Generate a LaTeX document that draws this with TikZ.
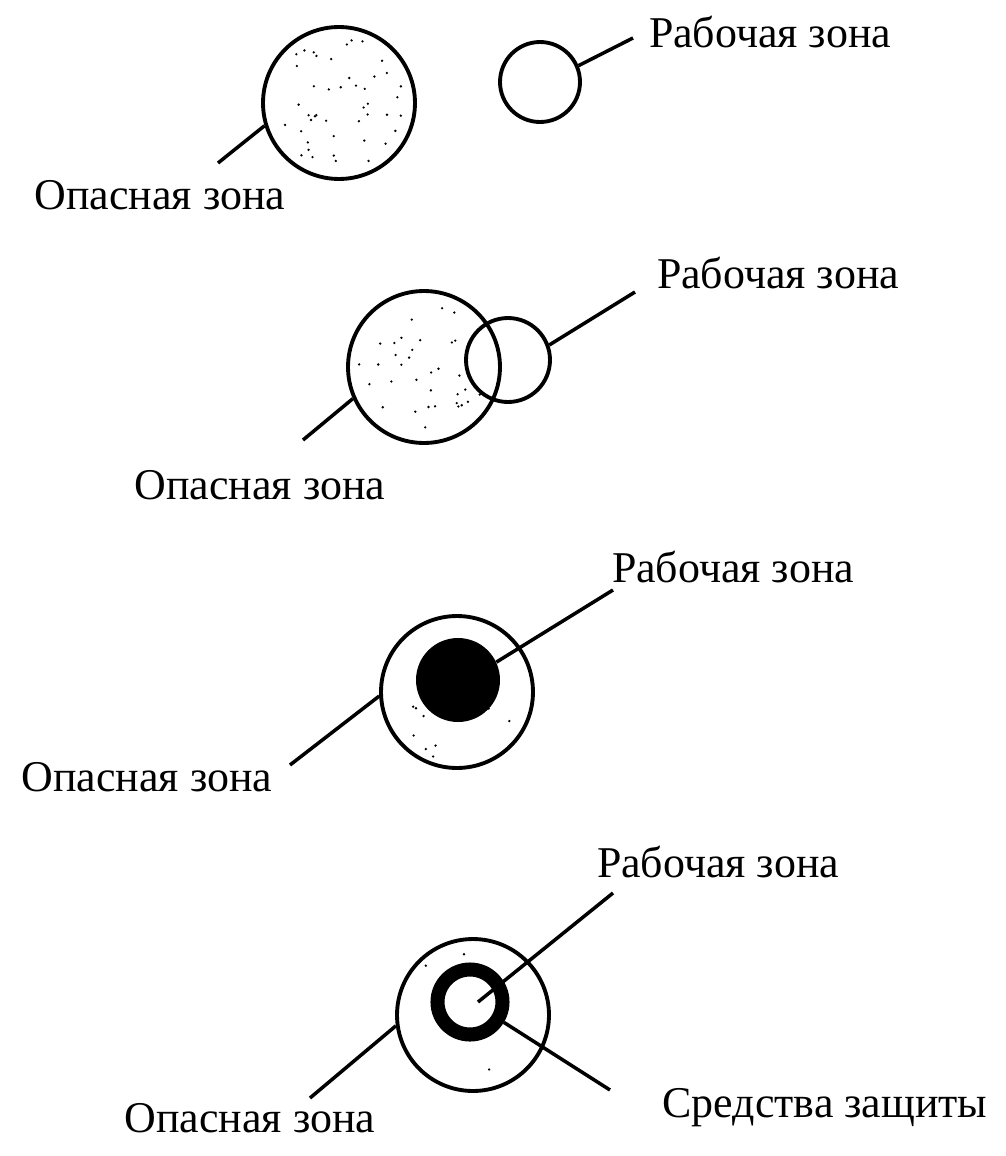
\documentclass[tikz,border=0pt]{standalone}
\usepackage{fontspec}
\setmainfont{Liberation Serif}
\begin{document}
\begin{tikzpicture}[x=0.02cm,y=-0.02cm,
    zone/.style={circle,draw,line width=2.2pt,inner sep=0pt},
    lead/.style={line width=2pt},
    lbl/.style={font=\fontsize{25}{28}\selectfont}]
    \useasboundingbox (0,0) rectangle (1006,1156);

    % first picture: zones apart
    \node[zone,minimum size=3.04cm] (d1) at (339,103) {};
    \node[zone,minimum size=1.6cm] (w1) at (540,82) {};
    \node[lbl] (dl1) at (160,195) {Опасная зона};
    \node[lbl] (wl1) at (770,32) {Рабочая зона};
    \coordinate (dc1) at (218,163);
    \coordinate (wc1) at (633,38);
    \draw[lead] (d1.197) -- (dc1);
    \draw[lead] (w1.23) -- (wc1);

    % second picture: zones overlap
    \node[zone,minimum size=3.04cm] (d2) at (424,367) {};
    \node[zone,minimum size=1.68cm] (w2) at (508,360) {};
    \node[lbl] (dl2) at (260,485) {Опасная зона};
    \node[lbl] (wl2) at (778,273) {Рабочая зона};
    \coordinate (dc2) at (303,440);
    \coordinate (wc2) at (635,292);
    \draw[lead] (d2.204) -- (dc2);
    \draw[lead] (w2.20) -- (wc2);

    % third picture: work zone inside
    \node[zone,minimum size=3.04cm] (d3) at (457,692) {};
    \node[circle,fill=black,minimum size=1.68cm,inner sep=0pt] (w3) at (458,680) {};
    \node[lbl] (dl3) at (147,777) {Опасная зона};
    \node[lbl] (wl3) at (733,567) {Рабочая зона};
    \coordinate (dc3) at (290,765);
    \coordinate (wc3) at (613,590);
    \draw[lead] (d3.183) -- (dc3);
    \draw[lead] (w3.25) -- (wc3);

    % fourth picture: protection
    \node[zone,minimum size=3.04cm] (d4) at (473,1015) {};
    \node[circle,draw,line width=8pt,minimum size=1.3cm,inner sep=0pt] (p4) at (470,1002) {};
    \coordinate (w4) at (478,1002);
    \node[lbl] (dl4) at (250,1118) {Опасная зона};
    \node[lbl] (wl4) at (718,862) {Рабочая зона};
    \node[lbl] (pl4) at (825,1108) {Средства защиты};
    \coordinate (dc4) at (310,1098);
    \coordinate (wc4) at (613,893);
    \coordinate (pc4) at (610,1090);
    \draw[lead] (d4.188) -- (dc4);
    \draw[lead] (w4) -- (wc4);
    \draw[lead] (p4.-31) -- (pc4);

    % specks of danger
    \pgfmathsetseed{7}
    \foreach \cx/\cy/\r/\n in {339/103/66/45,424/367/66/35,457/692/70/12,473/1015/70/3}{
        \foreach \i in {1,...,\n}{
            \pgfmathsetmacro{\a}{rnd*360}
            \pgfmathsetmacro{\d}{sqrt(rnd)*\r}
            \fill ({\cx+\d*cos(\a)},{\cy+\d*sin(\a)}) circle[radius=1.3];
        }
    }
\end{tikzpicture}
\end{document}
